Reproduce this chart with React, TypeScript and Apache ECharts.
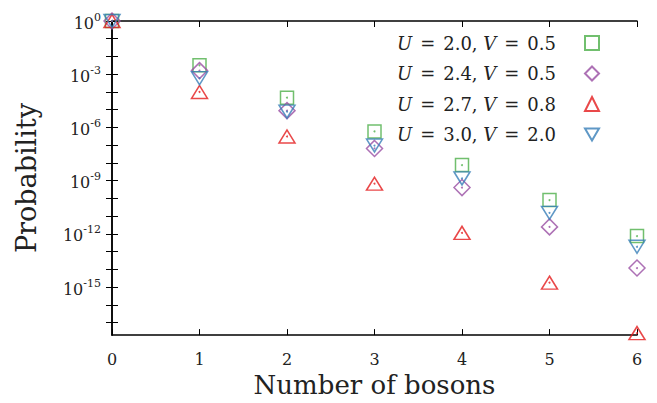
import React, { useEffect, useRef } from 'react';
import * as echarts from 'echarts';

const bosonCounts = [0, 1, 2, 3, 4, 5, 6];
const legendLabels = [
  '{i|U}{e|=}2.0, {i|V}{e|=}0.5',
  '{i|U}{e|=}2.4, {i|V}{e|=}0.5',
  '{i|U}{e|=}2.7, {i|V}{e|=}0.8',
  '{i|U}{e|=}3.0, {i|V}{e|=}2.0',
];
const probU20V05 = [1, 3.2e-3, 4.8e-5, 6.0e-7, 7.6e-9, 8.1e-11, 7.6e-13];
const probU24V05 = [1, 1.6e-3, 8.9e-6, 6.6e-8, 4.1e-10, 2.5e-12, 1.2e-14];
const probU27V08 = [1, 1.0e-4, 3.1e-7, 6.8e-10, 1.15e-12, 1.8e-15, 2.6e-18];
const probU30V20 = [1, 6.0e-4, 7.8e-6, 9.6e-8, 1.35e-9, 1.55e-11, 1.9e-13];
const yLabelTicks = [1, 1e-3, 1e-6, 1e-9, 1e-12, 1e-15];
const yMinorTicks = [1, 1e-1, 1e-2, 1e-3, 1e-4, 1e-5, 1e-6, 1e-7, 1e-8, 1e-9, 1e-10, 1e-11, 1e-12, 1e-13, 1e-14, 1e-15, 1e-16, 1e-17];
const yMin = 2e-18;
const yMax = 1;

const colors = ['#4daf4a', '#984ea3', '#e41a1c', '#377eb8'];
const symbols = ['rect', 'diamond', 'triangle', 'path://M0,0L20,0L10,17Z'];
const symbolSizes: any[] = [13, 16, [16, 13], [16, 13]];
const seriesData = [probU20V05, probU24V05, probU27V08, probU30V20];

const FONT = 'DejaVu Serif';

export default function App() {
  const ref = useRef<HTMLDivElement>(null);
  useEffect(() => {
    if (!ref.current) return;
    const chart = echarts.init(ref.current, null, { renderer: 'svg' });
    const series: any[] = [];
    seriesData.forEach((arr, i) => {
      series.push({
        name: legendLabels[i],
        type: 'scatter',
        xAxisIndex: 0,
        yAxisIndex: 0,
        data: bosonCounts.map((x, k) => [x, arr[k]]),
        symbol: symbols[i],
        symbolSize: symbolSizes[i],
        clip: false,
        itemStyle: { color: 'rgba(0,0,0,0)', borderColor: colors[i], borderWidth: 1.5 },
        z: 3,
      });
      series.push({
        name: 'dot' + i,
        type: 'scatter',
        xAxisIndex: 0,
        yAxisIndex: 0,
        data: bosonCounts.map((x, k) => [x, arr[k]]),
        symbol: 'circle',
        symbolSize: 2,
        clip: false,
        itemStyle: { color: colors[i] },
        z: 3,
      });
    });
    const axisLine = { show: true, lineStyle: { color: '#000', width: 1.5 } };
    const tick = { show: true, inside: true, length: 6, lineStyle: { color: '#000', width: 1 } };
    chart.setOption({
      animation: false,
      grid: { left: 112, right: 20, top: 21, bottom: 62 },
      legend: {
        data: legendLabels.map((n, i) => ({ name: n, icon: symbols[i] })),
        orient: 'vertical',
        align: 'right',
        right: 52,
        top: 29,
        itemWidth: 14,
        itemHeight: 14,
        itemGap: 12.5,
        selectedMode: false,
        textStyle: {
          fontFamily: FONT,
          fontSize: 18,
          lineHeight: 14,
          color: '#222',
          padding: [0, 24, 0, 0],
          rich: {
            i: { fontFamily: FONT, fontStyle: 'italic', fontSize: 18, lineHeight: 14, color: '#222' },
            e: { fontFamily: FONT, fontSize: 18, lineHeight: 14, color: '#222', padding: [0, 8, 0, 8] },
          },
        },
      },
      xAxis: [
        {
          type: 'value',
          min: 0,
          max: 6,
          interval: 1,
          position: 'bottom',
          name: 'Number of bosons',
          nameLocation: 'middle',
          nameGap: 36,
          nameTextStyle: { fontFamily: FONT, fontSize: 26, color: '#222' },
          axisLine,
          axisTick: tick,
          splitLine: { show: false },
          axisLabel: { fontFamily: FONT, fontSize: 16, color: '#222', margin: 16 },
        },
        {
          type: 'value',
          min: 0,
          max: 6,
          interval: 1,
          position: 'top',
          axisLine,
          axisTick: tick,
          splitLine: { show: false },
          axisLabel: { show: false },
        },
      ],
      yAxis: [
        {
          type: 'log',
          logBase: 10,
          min: yMin,
          max: yMax,
          position: 'left',
          name: 'Probability',
          nameLocation: 'middle',
          nameGap: 72,
          nameTextStyle: { fontFamily: FONT, fontSize: 27, color: '#222' },
          axisLine,
          axisTick: { ...tick, customValues: yMinorTicks },
          splitLine: { show: false },
          minorTick: { show: false },
          axisLabel: {
            customValues: yLabelTicks,
            margin: 11,
            formatter: (v: number) => `{b|10}{s|${Math.round(Math.log10(v))}}`,
            rich: {
              b: { fontFamily: FONT, fontSize: 16, color: '#222', padding: [4, 0, 0, 0] },
              s: { fontFamily: FONT, fontSize: 11, color: '#222', padding: [0, 0, 8, 0] },
            },
          },
        },
        {
          type: 'log',
          logBase: 10,
          min: yMin,
          max: yMax,
          position: 'right',
          axisLine,
          axisTick: { ...tick, customValues: yMinorTicks },
          splitLine: { show: false },
          minorTick: { show: false },
          axisLabel: { show: false },
        },
      ],
      series,
    });
    return () => chart.dispose();
  }, []);
  return <div ref={ref} style={{ width: 657, height: 403, position: 'absolute', left: 0, top: 0 }} />;
}
